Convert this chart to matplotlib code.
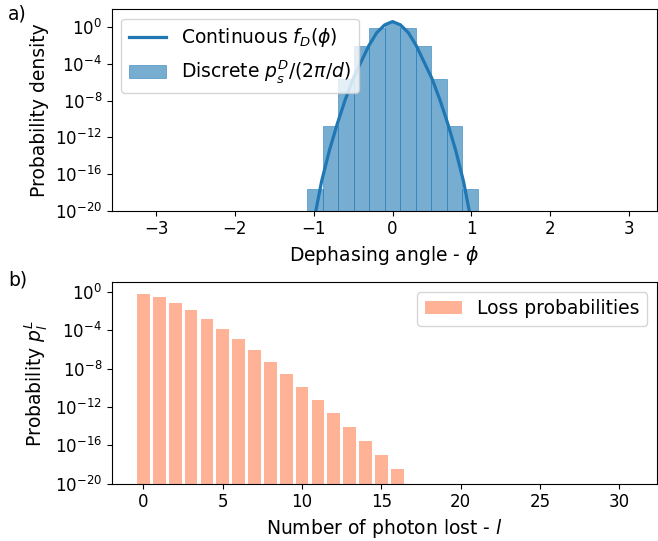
import numpy as np
import matplotlib
matplotlib.use('Agg')
import matplotlib.pyplot as plt
from matplotlib.ticker import NullLocator

#%% data
d = 32
k_bins = [-5, -4, -3, -2, -1, 0, 1, 2, 3, 4, 5]
log_ps_bins = [-17.63, -10.76, -5.67, -2.04, -0.08, 0.5, -0.08, -2.04, -5.67, -10.76, -17.63]

phi_curve = [-1.0, -0.97, -0.9, -0.8, -0.7, -0.6, -0.5, -0.4, -0.3, -0.2, -0.1, 0.0,
             0.1, 0.2, 0.3, 0.4, 0.5, 0.6, 0.7, 0.8, 0.9, 0.97, 1.0]
log_f_curve = [-21.0, -19.9, -16.8, -13.4, -10.5, -7.9, -5.6, -3.8, -2.0, -0.6, 0.25, 0.61,
               0.25, -0.6, -2.0, -3.8, -5.6, -7.9, -10.5, -13.4, -16.8, -19.9, -21.0]

n_lost = list(range(17))
log_p_loss = [-0.21, -0.49, -1.15, -1.88, -2.82, -3.86, -4.91, -6.05, -7.31, -8.56,
              -9.92, -11.27, -12.63, -14.09, -15.55, -17.01, -18.48]

#%% plot
plt.rcParams['font.size'] = 13.5
plt.rcParams['xtick.labelsize'] = 12
plt.rcParams['ytick.labelsize'] = 12
fig = plt.figure(figsize=(6.58, 5.41), dpi=100)
ax1 = fig.add_axes([0.170, 0.6105, 0.828, 0.3725])
ax2 = fig.add_axes([0.170, 0.106, 0.828, 0.372])

w = 2 * np.pi / d
ax1.plot(phi_curve, 10.0 ** np.array(log_f_curve), color='tab:blue', linewidth=2.3,
         label='Continuous $f_D(\\phi)$')
ax1.bar(np.array(k_bins) * w, 10.0 ** np.array(log_ps_bins), width=w, color='tab:blue',
        alpha=0.6, edgecolor=(0.12, 0.47, 0.71, 0.5), linewidth=0.6,
        label='Discrete $p_s^D/(2\\pi/d)$')
ax1.set_yscale('log')
ax1.set_ylim(1e-20, 10 ** 1.96)
ax1.set_xlim(-3.56, 3.35)
ax1.set_yticks([1e0, 1e-4, 1e-8, 1e-12, 1e-16, 1e-20])
ax1.yaxis.set_minor_locator(NullLocator())
ax1.set_xticks([-3, -2, -1, 0, 1, 2, 3])
ax1.set_xlabel('Dephasing angle - $\\phi$')
ax1.set_ylabel('Probability density')
ax1.legend(loc='upper left')

ax2.bar(n_lost, 10.0 ** np.array(log_p_loss), width=0.8, color='coral', alpha=0.6,
        label='Loss probabilities')
ax2.set_yscale('log')
ax2.set_ylim(1e-20, 10 ** 1.01)
ax2.set_xlim(-1.99, 32.35)
ax2.set_yticks([1e0, 1e-4, 1e-8, 1e-12, 1e-16, 1e-20])
ax2.yaxis.set_minor_locator(NullLocator())
ax2.set_xticks([0, 5, 10, 15, 20, 25, 30])
ax2.set_xlabel('Number of photon lost - $l$')
ax2.set_ylabel('Probability $p_l^L$')
ax2.legend(loc='upper right')

fig.text(0.012, 0.975, 'a)', fontsize=13.5, va='center')
fig.text(0.012, 0.482, 'b)', fontsize=13.5, va='center')

fig.savefig('out.png', dpi=100)
